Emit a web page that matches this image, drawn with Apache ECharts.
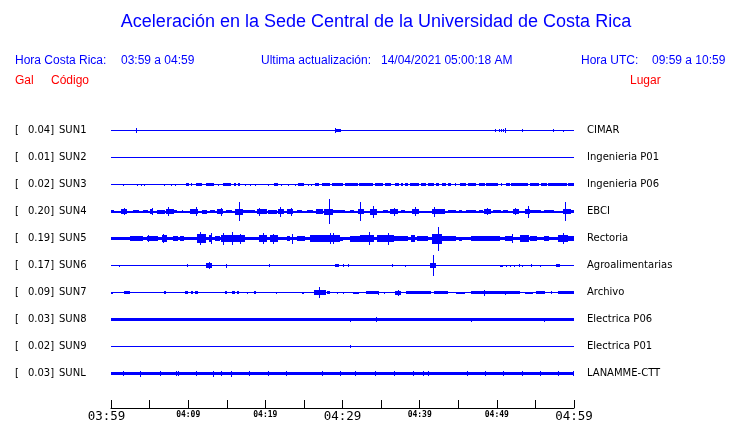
<!DOCTYPE html>
<html><head><meta charset="utf-8">
<script src="https://cdn.jsdelivr.net/npm/echarts@6/dist/echarts.min.js"></script>
<style>html,body{margin:0;padding:0;background:#fff}#c{width:740px;height:423px}</style>
</head><body><div id="c"></div>
<script>
// ---- data ----
const codes = ['SUN1','SUN2','SUN3','SUN4','SUN5','SUN6','SUN7','SUN8','SUN9','SUNL'];
const gals = [0.04,0.01,0.02,0.20,0.19,0.17,0.09,0.03,0.02,0.03];
const places = ['CIMAR','Ingenieria P01','Ingenieria P06','EBCI','Rectoria','Agroalimentarias','Archivo','Electrica P06','Electrica P01','LANAMME-CTT'];
const tickLabels = ['03:59','04:09','04:19','04:29','04:39','04:49','04:59']; // every 10 min
const majorLabels = ['03:59','04:29','04:59'];
const windowMinutes = 60;
// background noise half-amplitude per trace
const baseAmp = [0.5,0.5,0.5,1.0,1.7,0.5,0.5,1.5,0.5,1.5];
// events: [start minute, end minute, half-amplitude]
const sun1 = [[3.30,3.30,2.5],[21.50,21.50,0.8],[29.04,29.04,2.3],[29.13,29.78,1.6],[49.72,49.72,1.3],[50.24,50.24,1.2],[50.50,50.50,1.2],[50.76,50.76,1.2],[51.07,51.07,2.8],[53.23,53.23,1.3],[57.26,57.26,1.3],[58.56,58.56,1.0]];
const sun2 = [];
const sun3 = [[1.61,1.61,1],[3.43,3.43,1],[3.90,3.90,1],[4.25,4.25,1],[6.85,6.85,1],[7.76,7.76,1],[8.24,8.24,1],[9.76,10.06,1.5],[10.36,10.36,1.2],[10.97,11.84,1.5],[12.36,13.40,1.5],[13.92,13.92,1],[14.57,15.52,1.5],[15.91,16.26,1.5],[16.47,16.78,1.5],[17.34,17.34,1],[17.95,17.95,1],[18.64,18.64,1],[20.37,20.37,1],[21.07,21.59,1.5],[22.02,22.02,1],[22.98,22.98,1],[23.84,23.84,1],[24.28,24.97,1.5],[25.58,25.58,1],[25.97,25.97,1],[26.44,26.96,1.5],[27.31,28.35,1.5],[28.70,30.08,1.5],[30.26,31.95,1.5],[32.17,33.90,1.5],[34.25,35.20,1.5],[35.55,36.28,1.5],[36.76,37.37,1.5],[37.58,37.80,1.5],[38.10,38.45,1.5],[38.75,39.88,1.5],[40.23,40.83,1.5],[41.05,41.92,1.5],[42.13,42.48,1.5],[42.92,43.44,1.5],[43.65,44.09,1.5],[44.52,44.74,1.5],[45.17,46.04,1.5],[46.25,47.25,1.5],[47.64,48.42,1.5],[48.64,50.15,1.5],[50.50,50.50,1.2],[51.15,51.67,1.5],[51.89,54.05,1.5],[54.27,55.40,1.5],[55.75,56.44,1.5],[56.66,59.04,1.5],[59.26,60,1.5]];
const sun4 = [[0,0.39,1.3],[1.25,2.03,2.3],[1.69,1.69,3.3],[2.81,3.67,1.7],[4.10,4.84,1.8],[5.05,5.49,2.3],[5.27,5.27,3.3],[5.92,7.00,2.0],[7.13,8.16,2.8],[7.43,7.43,4.3],[8.16,8.60,1.5],[9.16,9.37,1.5],[10.24,11.32,2.5],[11.02,11.02,4.3],[11.75,12.48,2.0],[12.83,13.48,1.7],[13.69,14.56,2.5],[14.21,14.21,4],[14.90,15.64,1.7],[16.07,17.15,3.0],[16.63,16.63,9.7],[17.15,18.66,1.5],[18.88,20.17,2.3],[19.22,19.22,4],[20.39,21.47,2.0],[21.69,22.42,2.5],[21.90,21.90,5],[22.77,23.63,2.3],[23.28,23.28,4],[24.06,24.71,1.7],[25.36,26.22,1.7],[26.57,27.43,2.5],[27.60,28.81,3.0],[28.29,28.29,12.3],[28.81,29.67,1.8],[29.67,30.33,1.5],[31.00,31.43,1.7],[31.96,32.76,2.5],[32.23,32.23,9.9],[33.55,34.43,3.0],[33.99,33.99,6],[35.31,35.84,1.7],[36.19,37.25,2.5],[36.72,36.72,4],[37.60,38.04,1.5],[39.01,39.89,2.5],[39.45,39.45,4.5],[41.57,43.33,2.8],[41.83,41.83,5],[43.69,44.65,1.7],[45.10,45.54,1.5],[45.98,47.30,1.7],[47.65,48.18,1.5],[48.40,49.28,2.3],[48.71,48.71,3.5],[49.50,50.60,1.7],[50.83,51.49,1.5],[52.06,52.81,2.1],[52.37,52.37,3.5],[53.69,54.26,2.1],[54.00,54.00,6],[54.35,55.67,1.5],[56.11,57.44,1.3],[58.54,59.64,2.8],[58.89,58.89,9.7],[59.64,60,1.5]];
const sun5 = [[2.46,4.10,2.3],[4.62,5.49,2.7],[4.84,4.84,3.5],[5.49,6.13,2.4],[6.57,7.21,3.5],[6.78,6.78,4.5],[7.99,8.73,2.9],[8.94,9.46,2.4],[11.10,12.31,4.3],[11.53,11.53,6.3],[12.74,13.09,3.8],[12.92,12.92,5.3],[13.48,14.13,2.4],[14.21,17.37,3.8],[14.47,14.47,6],[15.64,15.64,6.3],[16.72,16.72,5],[19.22,20.17,3.8],[19.74,19.74,5.7],[20.61,21.69,3.4],[21.04,21.04,5],[22.77,23.20,2.4],[23.50,23.50,5],[24.15,25.14,2.9],[25.79,27.30,3.2],[27.30,29.68,3.8],[28.38,28.38,5.3],[28.81,28.81,5.7],[29.67,30.11,2],[30.99,32.31,3.0],[32.31,34.08,3.8],[33.42,33.42,6.5],[34.52,36.72,3.4],[35.84,35.84,6],[36.72,38.48,2.6],[38.92,39.37,3.8],[39.59,41.13,2.4],[41.57,42.89,5.0],[42.32,42.32,12],[42.89,44.65,2.4],[45.10,45.54,2],[46.64,47.30,2.6],[47.30,48.62,2.9],[48.62,50.38,2.2],[51.05,52.15,2.9],[51.93,51.93,4.5],[53.03,54.13,3.4],[54.35,55.23,2.4],[56.11,56.77,2.6],[57.88,59.20,3.4],[58.54,58.54,5.5],[59.20,60,2.9]];
const sun6 = [[1.09,1.09,1],[9.84,9.84,1.3],[12.36,13.09,2.2],[12.66,12.66,3.3],[14.91,15.09,2],[20.46,20.46,1.3],[26.31,26.31,0.8],[29.04,29.56,1.7],[30.08,30.08,1.2],[30.69,30.69,1.3],[36.37,36.37,1.3],[38.10,38.10,1],[39.75,39.75,0.8],[41.36,42.14,2.5],[41.70,41.70,10.3],[45.52,45.52,0.8],[46.64,46.64,0.8],[47.77,47.77,0.8],[49.37,49.37,0.8],[50.37,50.80,1],[51.24,51.24,1],[51.67,51.67,1],[52.19,52.19,1],[52.84,52.84,1.7],[53.32,53.32,1],[54.45,54.45,1.3],[55.53,55.53,1],[57.65,58.17,1.5]];
const sun7 = [[0,0.31,1],[1.74,2.47,1.3],[4.08,4.08,0.8],[5.72,5.72,0.8],[6.81,7.11,1.3],[9.54,9.97,1.3],[10.41,10.58,1.3],[10.93,11.23,1.3],[14.83,15.04,1.3],[15.69,16.04,1.3],[16.34,16.65,1.3],[17.64,17.64,1],[18.51,18.82,1.3],[21.33,21.33,1],[24.80,25.06,1],[25.75,25.75,0.8],[26.31,27.83,2.2],[26.96,26.96,5.8],[28.05,28.35,1.3],[29.35,29.35,1],[30.00,30.00,1],[31.30,32.17,1],[33.03,34.77,1.3],[34.55,34.55,2],[35.42,35.42,1],[36.76,37.58,2],[37.15,37.15,3],[38.23,41.49,1.3],[41.92,43.65,1.3],[44.74,45.82,1],[46.69,52.97,1.3],[48.33,48.33,3],[51.02,51.02,2],[53.62,54.71,1],[55.14,56.22,1.3],[56.96,56.96,1.5],[57.96,60,1.3]];
const sun8 = [[30.99,30.99,2],[34.38,34.38,2.5],[46.60,46.60,2],[56.14,56.14,2]];
const sun9 = [[30.99,30.99,1.7]];
const sunL = [[1.61,1.61,2.3],[3.77,3.77,3],[6.29,6.29,2.3],[8.45,8.45,2.3],[8.67,8.67,2.3],[11.01,11.01,2.3],[13.22,13.22,3],[14.26,14.26,2.3],[15.52,15.52,3],[17.86,17.86,2.7],[20.33,20.33,2.3],[22.67,22.67,2.3],[27.31,27.31,2.3],[29.69,29.69,2.3],[31.65,31.65,2.7],[34.25,34.25,2.7],[36.67,36.67,2.3],[39.10,39.10,2.3],[40.49,40.49,2.3],[41.14,41.14,2.3],[46.12,46.12,2.3],[48.46,48.46,2.3],[50.80,50.80,2.3],[53.23,53.23,2.3],[55.57,55.57,2.7],[57.96,57.96,2.3],[59.91,59.91,2.3]];
const traces = [sun1,sun2,sun3,sun4,sun5,sun6,sun7,sun8,sun9,sunL];

// ---- chart ----
const BLUE = '#0000ff';
const ROW = 27;
const chart = echarts.init(document.getElementById('c'), null, {renderer:'canvas'});

function renderTrace(params, api){
  const row = params.seriesIndex;
  const base = ROW/2 + ROW*row;
  const a = api.value(2);
  const p0 = api.coord([api.value(0), base - a]);
  const p1 = api.coord([api.value(1), base + a]);
  const x0 = Math.round(p0[0]);
  const x1 = Math.max(x0 + 1, Math.round(p1[0]));
  let y0 = Math.round(Math.min(p0[1], p1[1]));
  let y1 = Math.round(Math.max(p0[1], p1[1]));
  if (y1 <= y0) y1 = y0 + 1;
  return {type:'rect', shape:{x:x0, y:y0, width:x1-x0, height:y1-y0}, style:{fill:BLUE}};
}

const series = traces.map((ev, i) => ({
  type:'custom', xAxisIndex:0, yAxisIndex:0, clip:false,
  renderItem: renderTrace,
  encode:{x:[0,1], y:2},
  data: [[0, windowMinutes, baseAmp[i]]].concat(ev),
  silent:true
}));
series.push({type:'line', xAxisIndex:1, yAxisIndex:3, data:[], silent:true});

const sans = 'Liberation Sans, Arial, sans-serif';
const dv = 'DejaVu Sans';

chart.setOption({
  animation:false,
  backgroundColor:'#fff',
  grid:[
    {left:111, width:463, top:117, height:270},
    {left:111, width:463, top:380, height:29}
  ],
  xAxis:[
    {gridIndex:0, type:'value', min:0, max:windowMinutes, show:false},
    {gridIndex:1, type:'value', min:0, max:windowMinutes, interval:5, position:'bottom',
      axisLine:{show:true, lineStyle:{color:'#000', width:1}},
      axisTick:{show:true, inside:true, length:8, lineStyle:{color:'#000', width:1}},
      splitLine:{show:false},
      axisLabel:{show:true, margin:2, hideOverlap:false, showMinLabel:true, showMaxLabel:true,
        formatter:function(v){
          if (v % 10 !== 0) return '';
          const lbl = tickLabels[v/10];
          if (v === 0) return '{first|'+lbl+'}';
          return majorLabels.indexOf(lbl) >= 0 ? '{big|'+lbl+'}' : '{small|'+lbl+'}';
        },
        rich:{
          first:{fontFamily:'DejaVu Sans Mono', fontSize:12.5, color:'#000', lineHeight:13, padding:[0,9,0,0]},
          big:{fontFamily:'DejaVu Sans Mono', fontSize:12.5, color:'#000', lineHeight:13},
          small:{fontFamily:'DejaVu Sans Mono', fontSize:8, fontWeight:'bold', color:'#000', lineHeight:10}
        }
      }
    }
  ],
  yAxis:[
    {gridIndex:0, type:'value', min:0, max:ROW*codes.length, inverse:true, show:false},
    {gridIndex:0, type:'category', data:codes, inverse:true, position:'left',
      axisLine:{show:false}, axisTick:{show:false}, splitLine:{show:false},
      axisLabel:{show:true, margin:96, align:'left', color:'#000', fontFamily:dv, fontSize:10,
        formatter:function(v, i){ return '{b|[}{g|'+gals[i].toFixed(2)+']}{c|'+v+'}'; },
        rich:{
          b:{width:12, fontFamily:dv, fontSize:10, color:'#000'},
          g:{width:28, align:'right', fontFamily:dv, fontSize:10, color:'#000'},
          c:{padding:[0,0,0,4], fontFamily:dv, fontSize:10, color:'#000'}
        }
      }
    },
    {gridIndex:0, type:'category', data:places, inverse:true, position:'right',
      axisLine:{show:false}, axisTick:{show:false}, splitLine:{show:false},
      axisLabel:{show:true, margin:13, color:'#000', fontFamily:dv, fontSize:10}
    },
    {gridIndex:1, type:'value', min:0, max:1, show:false}
  ],
  graphic:[
    {type:'text', x:376, y:22, style:{text:'Aceleración en la Sede Central de la Universidad de Costa Rica', fill:BLUE, font:'18px '+sans, textAlign:'center', textVerticalAlign:'middle'}},
    {type:'text', x:15, y:61, style:{text:'Hora Costa Rica:', fill:BLUE, font:'12px '+sans, textVerticalAlign:'middle'}},
    {type:'text', x:121, y:61, style:{text:'03:59 a 04:59', fill:BLUE, font:'12px '+sans, textVerticalAlign:'middle'}},
    {type:'text', x:261, y:61, style:{text:'Ultima actualización:', fill:BLUE, font:'12px '+sans, textVerticalAlign:'middle'}},
    {type:'text', x:381, y:61, style:{text:'14/04/2021 05:00:18 AM', fill:BLUE, font:'12px '+sans, textVerticalAlign:'middle'}},
    {type:'text', x:581, y:61, style:{text:'Hora UTC:', fill:BLUE, font:'12px '+sans, textVerticalAlign:'middle'}},
    {type:'text', x:652, y:61, style:{text:'09:59 a 10:59', fill:BLUE, font:'12px '+sans, textVerticalAlign:'middle'}},
    {type:'text', x:15, y:81, style:{text:'Gal', fill:'#ff0000', font:'12px '+sans, textVerticalAlign:'middle'}},
    {type:'text', x:51, y:81, style:{text:'Código', fill:'#ff0000', font:'12px '+sans, textVerticalAlign:'middle'}},
    {type:'text', x:630, y:81, style:{text:'Lugar', fill:'#ff0000', font:'12px '+sans, textVerticalAlign:'middle'}}
  ],
  series: series
});
</script>
</body></html>
